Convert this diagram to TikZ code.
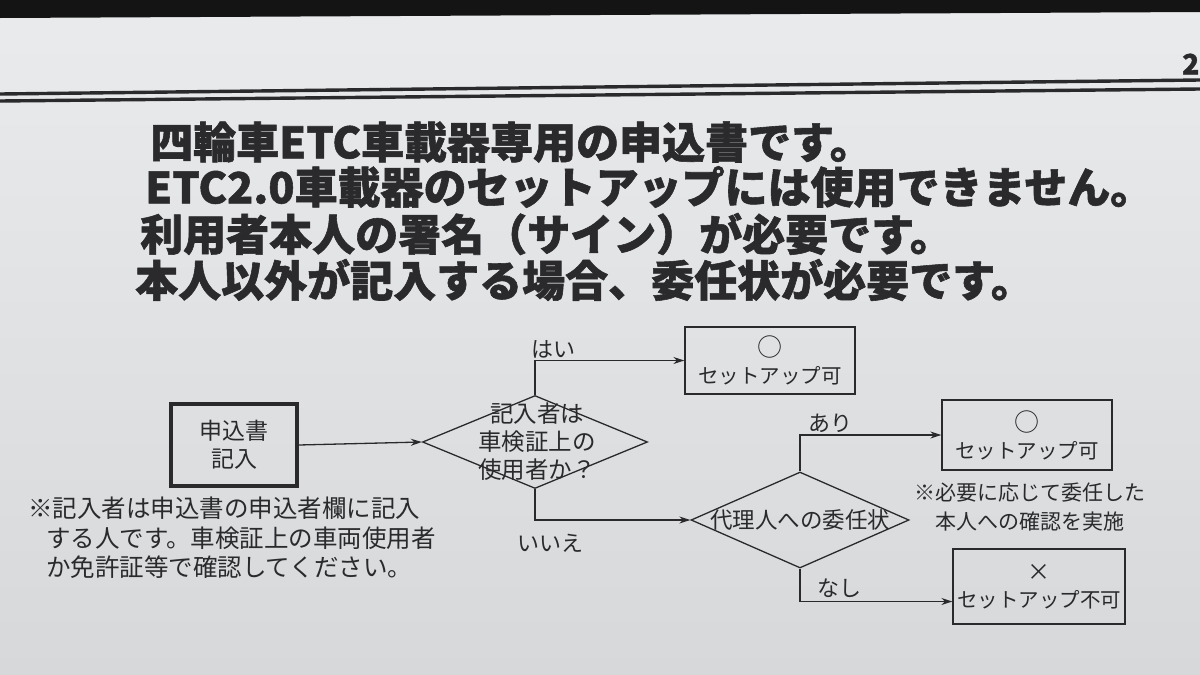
\documentclass[tikz,border=0pt]{standalone}
\usepackage{fontspec}
\newfontfamily\jp[BoldFeatures={FakeBold=1.3}]{Noto Sans CJK JP}
\usetikzlibrary{shapes.geometric,arrows.meta,calc}
\definecolor{papertop}{RGB}{233,235,237}
\definecolor{paperbot}{RGB}{214,216,218}
\definecolor{ink}{RGB}{42,42,45}
\begin{document}
\begin{tikzpicture}[x=1pt,y=-1pt,
  every node/.style={text=ink, font=\jp},
  title/.style={anchor=west, inner sep=0pt, font=\jp\bfseries\fontsize{43}{43}\selectfont},
  resbox/.style={draw=ink, line width=1.3pt, align=center, inner sep=0pt, font=\jp\fontsize{20.5}{27}\selectfont},
  decision/.style={draw=ink, line width=1.3pt, diamond, inner sep=0pt},
  dtext/.style={align=center, inner sep=0pt},
  lbl/.style={inner sep=0pt, font=\jp\fontsize{22}{22}\selectfont},
  arr/.style={draw=ink, line width=1.3pt, -{Stealth[length=11pt,width=7pt]}}
]
\useasboundingbox (0,0) rectangle (1200,675);
\shade[top color=papertop, bottom color=paperbot] (0,0) rectangle (1200,675);
% dark edge above the page
\fill[black!92] (0,0) -- (1200,0) -- (1200,12) -- (0,18) -- cycle;
% double rule
\draw[ink, line width=3.4pt] (0,94) -- (1200,80);
\draw[ink, line width=3.4pt] (0,101) -- (1200,89);
\node[anchor=west, inner sep=0pt, font=\jp\bfseries\fontsize{28}{28}\selectfont] (pg) at (1182,64) {2};

% title
\node[title] (t1) at (150,142) {四輪車ETC車載器専用の申込書です。};
\node[title] (t2) at (145,187) {ETC2.0車載器のセットアップには使用できません。};
\node[title] (t3) at (140,234) {利用者本人の署名（サイン）が必要です。};
\node[title] (t4) at (135,280) {本人以外が記入する場合、委任状が必要です。};

% flowchart
\node[draw=ink, line width=3.6pt, minimum width=126pt, minimum height=82pt, align=center,
      font=\jp\fontsize{23}{28}\selectfont] (start) at (234,445) {申込書\\記入};
\node[decision, minimum width=225pt, minimum height=93pt] (d1) at (535,442) {};
\node[dtext, font=\jp\fontsize{23.5}{28}\selectfont] (d1t) at (537,442) {記入者は\\車検証上の\\使用者か？};
\node[decision, minimum width=218pt, minimum height=96pt] (d2) at (800,520) {};
\node[dtext, font=\jp\fontsize{22.5}{22.5}\selectfont] (d2t) at (800,520) {代理人への委任状};

\node[resbox, minimum width=170pt, minimum height=67pt] (ok1) at (770,360.5)
  {{\fontsize{25}{25}\selectfont ○}\\セットアップ可};
\node[resbox, minimum width=170pt, minimum height=70pt] (ok2) at (1027,435)
  {{\fontsize{25}{25}\selectfont ○}\\セットアップ可};
\node[resbox, minimum width=172pt, minimum height=75pt] (ng) at (1039,586.5)
  {{\fontsize{23}{23}\selectfont ×}\\セットアップ不可};

\draw[arr] (start.east) -- (d1.west);
\draw[arr] (d1.north) |- (ok1.west);
\draw[arr] (d1.south) |- (d2.west);
\draw[arr] (d2.north) |- (ok2.west);
\draw[arr] (d2.south) |- ([yshift=-15pt]ng.west);

\node[lbl] (yes) at (553,349) {はい};
\node[lbl] (no) at (550,543) {いいえ};
\node[lbl] (ari) at (830,423) {あり};
\node[lbl] (nashi) at (839,588) {なし};

\node[align=center, inner sep=0pt, font=\jp\fontsize{21}{29}\selectfont] (note2) at (1030,507)
  {※必要に応じて委任した\\本人への確認を実施};
\node[align=left, anchor=north west, inner sep=0pt, font=\jp\fontsize{24.5}{29.5}\selectfont] (note1) at (28,497)
  {※記入者は申込書の申込者欄に記入\\\hspace*{18pt}する人です。車検証上の車両使用者\\\hspace*{18pt}か免許証等で確認してください。};
\end{tikzpicture}
\end{document}
